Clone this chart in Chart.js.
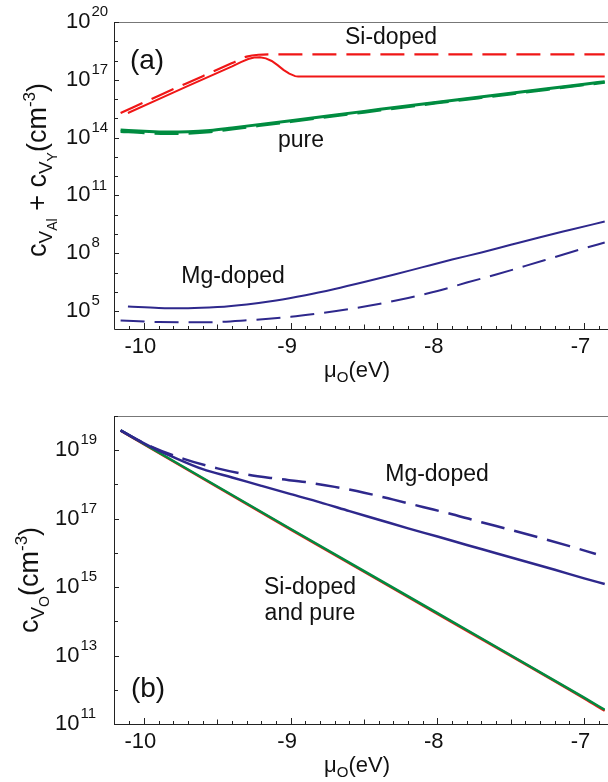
<!DOCTYPE html>
<html>
<head>
<meta charset="utf-8">
<script src="https://cdn.jsdelivr.net/npm/chart.js@4.4.1/dist/chart.umd.min.js"></script>
<style>
  html, body { margin: 0; padding: 0; background: #fff; }
  #wrap { position: relative; width: 608px; height: 782px; }
  canvas { position: absolute; left: 0; }
</style>
</head>
<body>
<div id="wrap">
  <canvas id="topChart" width="608" height="400" style="top:0px"></canvas>
  <canvas id="botChart" width="608" height="382" style="top:400px"></canvas>
</div>
<script>
// ---- panel (a): c_VAl + c_VY vs mu_O ----
const siDashedX = [-10.16, -9.9, -9.6, -9.4, -9.3, -9.22, -9.1, -6.86];
const siDashedY = [1.9e15, 1.5e16, 1.55e17, 7.4e17, 1.6e18, 2.0e18, 2.1e18, 2.1e18];

const siSolidX = [-10.11, -9.9, -9.7, -9.5, -9.4, -9.34, -9.29, -9.25, -9.21, -9.17, -9.13, -9.09, -9.05, -9.01, -8.97, -8.95, -6.86];
const siSolidY = [1.9e15, 1.0e16, 4.8e16, 2.3e17, 5.0e17, 8.3e17, 1.2e18, 1.45e18, 1.5e18, 1.3e18, 9.5e17, 5.8e17, 3.3e17, 2.1e17, 1.55e17, 1.5e17, 1.5e17];

const pureX = [-10.16, -10.0, -9.85, -9.7, -9.55, -9.4, -9.0, -8.5, -8.0, -7.5, -7.0, -6.86];
const pureSolidY = [2.5e14, 2.15e14, 1.95e14, 2.0e14, 2.35e14, 3.2e14, 7.6e14, 2.3e15, 6.9e15, 2.0e16, 5.9e16, 7.9e16];
const pureDashedY = [2.1e14, 1.8e14, 1.65e14, 1.7e14, 2.0e14, 2.8e14, 6.8e14, 2.1e15, 6.4e15, 1.85e16, 5.5e16, 7.4e16];

const mgSolidX = [-10.11, -9.9, -9.7, -9.5, -9.3, -9.1, -8.9, -8.7, -8.5, -8.3, -8.1, -7.9, -7.7, -7.5, -7.3, -7.1, -6.86];
const mgSolidY = [1.7e5, 1.45e5, 1.4e5, 1.6e5, 2.2e5, 3.5e5, 6.6e5, 1.4e6, 3.2e6, 7.6e6, 1.9e7, 4.7e7, 1.1e8, 2.75e8, 6.8e8, 1.6e9, 4.4e9];

const mgDashedX = [-10.16, -9.9, -9.6, -9.3, -9.0, -8.8, -8.6, -8.4, -8.2, -8.0, -7.8, -7.6, -7.4, -7.2, -7.0, -6.86];
const mgDashedY = [3.2e4, 2.7e4, 2.6e4, 3.3e4, 5.0e4, 7.6e4, 1.26e5, 2.3e5, 4.8e5, 1.1e6, 3.0e6, 7.9e6, 2.2e7, 6.3e7, 1.8e8, 3.6e8];

// ---- panel (b): c_VO vs mu_O ----
const voPureX = [-10.16, -9.0, -8.0, -7.0, -6.86];
const voPureY = [3.8e19, 5.0e16, 1.74e14, 5.9e11, 2.6e11];
const voSiY = [3.7e19, 4.8e16, 1.65e14, 5.6e11, 2.45e11];

const voMgSolidX = [-10.16, -9.96, -9.8, -9.6, -9.4, -9.2, -9.0, -8.8, -8.6, -8.4, -8.2, -8.0, -7.8, -7.6, -7.4, -7.2, -7.0, -6.86];
const voMgSolidY = [3.8e19, 1.3e19, 6.3e18, 2.8e18, 1.6e18, 9.1e17, 5.2e17, 3.0e17, 1.66e17, 9.3e16, 5.2e16, 3.0e16, 1.7e16, 9.8e15, 5.6e15, 3.2e15, 1.8e15, 1.23e15];

const voMgDashedX = [-10.16, -9.96, -9.73, -9.5, -9.3, -9.1, -8.9, -8.7, -8.5, -8.3, -8.1, -7.9, -7.7, -7.5, -7.3, -7.1, -6.92];
const voMgDashedY = [3.8e19, 1.32e19, 5.6e18, 2.95e18, 1.95e18, 1.48e18, 1.17e18, 8.5e17, 5.75e17, 3.6e17, 2.2e17, 1.35e17, 7.9e16, 4.7e16, 2.75e16, 1.58e16, 9.3e15];

// axis tick labels
const xTickLabels = [-10, -9, -8, -7];
const topYLabelExps = [5, 8, 11, 14, 17, 20];
const botYLabelExps = [11, 13, 15, 17, 19];

const RED = 'rgb(240,22,22)';
const GREEN = 'rgb(0,140,64)';
const NAVY = 'rgb(46,40,140)';
const FONT = '"Liberation Sans", Arial, sans-serif';

function pts(xs, ys) {
  return xs.map((x, i) => ({ x: x, y: ys[i] }));
}

function runsWidth(ctx, runs) {
  let w = 0;
  runs.forEach(([t, s]) => {
    ctx.font = `${s}px ${FONT}`;
    w += ctx.measureText(t).width;
  });
  return w;
}

function drawRuns(ctx, runs, x, y) {
  let cx = x;
  runs.forEach(([t, s, dy]) => {
    ctx.font = `${s}px ${FONT}`;
    ctx.fillText(t, cx, y + dy);
    cx += ctx.measureText(t).width;
  });
}

// draws frame, inward ticks, power-of-ten labels and the text annotations
const framePlugin = {
  id: 'frame',
  afterDraw(chart, args, opts) {
    const { ctx, chartArea: a } = chart;
    const xs = chart.scales.x, ys = chart.scales.y;
    ctx.save();
    ctx.lineWidth = 1;

    // top border
    ctx.strokeStyle = '#777';
    ctx.beginPath();
    ctx.moveTo(a.left, a.top + 0.5);
    ctx.lineTo(608, a.top + 0.5);
    ctx.stroke();

    // left + bottom axes
    ctx.strokeStyle = '#222';
    ctx.beginPath();
    ctx.moveTo(a.left + 0.5, a.top);
    ctx.lineTo(a.left + 0.5, a.bottom + 0.5);
    ctx.lineTo(608, a.bottom + 0.5);
    ctx.stroke();

    // y ticks, one per decade
    const eLo = Math.ceil(Math.log10(ys.min) - 1e-9);
    const eHi = Math.floor(Math.log10(ys.max) + 1e-9);
    ctx.beginPath();
    for (let e = eLo; e <= eHi; e++) {
      const py = Math.round(ys.getPixelForValue(Math.pow(10, e))) + 0.5;
      const len = opts.yLabels.includes(e) ? 5 : 4;
      ctx.moveTo(a.left, py);
      ctx.lineTo(a.left + len, py);
    }
    // x ticks every 0.1 eV
    for (let k = -102; k <= -68; k++) {
      const px = Math.round(xs.getPixelForValue(k / 10)) + 0.5;
      if (px < a.left + 2 || px > a.right) continue;
      const len = k % 10 === 0 ? 6 : (k % 5 === 0 ? 4.5 : 3);
      ctx.moveTo(px, a.bottom);
      ctx.lineTo(px, a.bottom - len);
    }
    ctx.stroke();

    ctx.fillStyle = '#111';
    ctx.textBaseline = 'middle';

    // y labels 10^n
    opts.yLabels.forEach(e => {
      const py = ys.getPixelForValue(Math.pow(10, e));
      ctx.textAlign = 'left';
      ctx.font = `${opts.yMainSize}px ${FONT}`;
      ctx.fillText('10', opts.yLabelLeft, py);
      const w = ctx.measureText('10').width;
      ctx.font = `${opts.ySupSize}px ${FONT}`;
      ctx.fillText(String(e), opts.yLabelLeft + w + 1, py - 10);
    });

    // x labels
    ctx.font = `22px ${FONT}`;
    xTickLabels.forEach(v => {
      const px = xs.getPixelForValue(v);
      const num = String(Math.abs(v));
      const w = ctx.measureText(num).width;
      ctx.textAlign = 'center';
      ctx.fillText(num, px, a.bottom + 18);
      ctx.textAlign = 'right';
      ctx.fillText('-', px - w / 2, a.bottom + 18);
    });

    // x title: mu_O(eV)
    ctx.textAlign = 'left';
    ctx.textBaseline = 'alphabetic';
    const xt = [['\u03bc', 22, 0], ['O', 15, 5], ['(eV)', 22, 0]];
    const xtw = runsWidth(ctx, xt);
    drawRuns(ctx, xt, 357 - xtw / 2, a.bottom + 48);

    // y title, rotated
    ctx.save();
    ctx.translate(opts.yTitle.x, opts.yTitle.y);
    ctx.rotate(-Math.PI / 2);
    const ytw = runsWidth(ctx, opts.yTitle.runs);
    drawRuns(ctx, opts.yTitle.runs, -ytw / 2, 8);
    ctx.restore();

    // annotations
    ctx.textAlign = 'center';
    ctx.textBaseline = 'middle';
    opts.notes.forEach(n => {
      ctx.font = `${n.size}px ${FONT}`;
      ctx.fillText(n.text, n.x, n.y);
    });

    ctx.restore();
  }
};

function lineSet(data, color, width, dashed, order, straight) {
  const ds = {
    data: data,
    borderColor: color,
    borderWidth: width,
    borderDash: dashed ? [24, 10] : [],
    pointRadius: 0,
    fill: false,
    order: order
  };
  if (straight) {
    ds.cubicInterpolationMode = 'default';
    ds.tension = 0;
  }
  return ds;
}

function makeChart(id, datasets, yMin, yMax, pad, frameOpts) {
  return new Chart(document.getElementById(id), {
    type: 'line',
    data: { datasets: datasets },
    options: {
      responsive: false,
      animation: false,
      layout: { padding: pad },
      elements: { line: { cubicInterpolationMode: 'monotone', borderCapStyle: 'butt' } },
      plugins: { legend: { display: false }, tooltip: { enabled: false }, frame: frameOpts },
      scales: {
        x: {
          type: 'linear', min: -10.205, max: -6.858,
          grid: { display: false }, border: { display: false }, ticks: { display: false },
          afterFit: s => { s.height = 0; }
        },
        y: {
          type: 'logarithmic', min: yMin, max: yMax,
          grid: { display: false }, border: { display: false }, ticks: { display: false },
          afterFit: s => { s.width = 0; }
        }
      }
    },
    plugins: [framePlugin]
  });
}

makeChart('topChart', [
  lineSet(pts(siDashedX, siDashedY), RED, 2.2, true, 5),
  lineSet(pts(siSolidX, siSolidY), RED, 2, false, 4, true),
  lineSet(pts(pureX, pureDashedY), GREEN, 3, true, 3),
  lineSet(pts(pureX, pureSolidY), GREEN, 3, false, 2),
  lineSet(pts(mgSolidX, mgSolidY), NAVY, 2, false, 1),
  lineSet(pts(mgDashedX, mgDashedY), NAVY, 2, true, 0)
], 1.17e4, 1e20, { left: 114, top: 22, right: 3, bottom: 71 }, {
  yLabels: topYLabelExps, yLabelLeft: 66, yMainSize: 22, ySupSize: 15,
  yTitle: {
    x: 38, y: 170,
    runs: [['c', 27, 0], ['V', 19, 6], ['Al', 14, 11], [' + ', 27, 0], ['c', 27, 0], ['V', 19, 6], ['Y', 14, 11],
           ['(cm', 27, 0], ['-3', 17, -11], [')', 27, 0]]
  },
  notes: [
    { text: '(a)', x: 147, y: 61, size: 28 },
    { text: 'Si-doped', x: 391, y: 38, size: 23 },
    { text: 'pure', x: 301, y: 141, size: 23 },
    { text: 'Mg-doped', x: 233, y: 277, size: 23 }
  ]
});

makeChart('botChart', [
  lineSet(pts(voPureX, voSiY), RED, 2.5, false, 3),
  lineSet(pts(voPureX, voPureY), GREEN, 2.5, false, 2),
  lineSet(pts(voMgSolidX, voMgSolidY), NAVY, 2.5, false, 1),
  lineSet(pts(voMgDashedX, voMgDashedY), NAVY, 2.5, true, 0)
], 1e11, 1e20, { left: 114, top: 16, right: 3, bottom: 58 }, {
  yLabels: botYLabelExps, yLabelLeft: 55, yMainSize: 22, ySupSize: 15,
  yTitle: {
    x: 30, y: 180,
    runs: [['c', 27, 0], ['V', 19, 6], ['O', 14, 11], ['(cm', 27, 0], ['-3', 17, -11], [')', 27, 0]]
  },
  notes: [
    { text: 'Mg-doped', x: 437, y: 75, size: 23 },
    { text: 'Si-doped', x: 310, y: 188, size: 23 },
    { text: 'and pure', x: 310, y: 214, size: 23 },
    { text: '(b)', x: 148, y: 289, size: 28 }
  ]
});
</script>
</body>
</html>
